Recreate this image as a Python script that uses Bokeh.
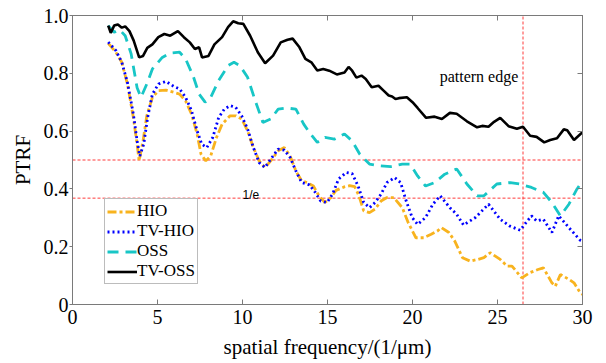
from bokeh.plotting import figure
from bokeh.models import Range1d, LinearAxis, FixedTicker, Legend, LegendItem, Label
from bokeh.embed import file_html
from bokeh.resources import INLINE

# ---------------- data ----------------
x_ticks = [0, 5, 10, 15, 20, 25, 30]
y_ticks = [0, 0.2, 0.4, 0.6, 0.8, 1.0]
y_tick_labels = {0: "0", 0.2: "0.2", 0.4: "0.4", 0.6: "0.6", 0.8: "0.8", 1.0: "1.0"}

hio_x = [2.1, 2.55, 2.9, 3.23, 3.58, 3.8, 3.92, 4.15, 4.37, 4.7, 5.06, 5.5, 5.97, 6.3, 6.65, 7.0, 7.33, 7.56, 7.84, 8.13,
         8.47, 8.8, 9.27, 9.6, 9.95, 10.3, 10.64, 10.98, 11.32, 11.66, 12.1, 12.46, 12.8, 13.14, 13.48, 13.8, 14.17, 14.5,
         14.85, 15.2, 15.5, 15.99, 16.3, 16.6, 16.85, 17.13, 17.47, 17.8, 18.15, 18.5, 18.9, 19.4, 19.75, 20.2, 20.66,
         21.1, 21.46, 21.7, 22.14, 22.48, 22.94, 23.4, 23.85, 24.2, 24.57, 25.16, 25.56, 25.85, 26.43, 26.9, 27.38, 27.7,
         28.2, 28.4, 28.7, 29.2, 29.5, 29.87, 30.0]
hio_y = [0.904, 0.873, 0.838, 0.763, 0.647, 0.555, 0.497, 0.566, 0.653, 0.717, 0.74, 0.742, 0.734, 0.728, 0.705, 0.659,
         0.59, 0.52, 0.497, 0.514, 0.578, 0.624, 0.653, 0.653, 0.642, 0.601, 0.543, 0.497, 0.474, 0.497, 0.532, 0.543,
         0.514, 0.462, 0.428, 0.422, 0.41, 0.376, 0.353, 0.37, 0.395, 0.407, 0.411, 0.408, 0.376, 0.324, 0.318, 0.33,
         0.358, 0.37, 0.37, 0.335, 0.283, 0.231, 0.231, 0.243, 0.254, 0.266, 0.249, 0.22, 0.162, 0.15, 0.156, 0.162,
         0.179, 0.156, 0.133, 0.133, 0.092, 0.11, 0.121, 0.127, 0.075, 0.063, 0.104, 0.087, 0.075, 0.04, 0.035]

tvhio_x = [2.1, 2.55, 2.9, 3.23, 3.58, 3.8, 3.96, 4.19, 4.42, 4.7, 5.06, 5.5, 5.97, 6.3, 6.65, 7.0, 7.33, 7.6, 7.9, 8.25,
           8.6, 8.93, 9.27, 9.6, 9.95, 10.3, 10.64, 10.98, 11.32, 11.66, 12.1, 12.46, 12.8, 13.14, 13.48, 13.94, 14.28,
           14.6, 14.97, 15.3, 15.65, 16.1, 16.45, 16.8, 17.13, 17.47, 17.8, 18.15, 18.5, 18.95, 19.3, 19.63, 19.98, 20.3,
           20.77, 21.2, 21.63, 22.2, 22.6, 23.0, 23.7, 24.47, 25.16, 25.7, 26.34, 26.7, 27.0, 27.3, 27.7, 28.2, 28.6,
           29.2, 29.87, 30.0]
tvhio_y = [0.908, 0.879, 0.838, 0.769, 0.659, 0.566, 0.514, 0.555, 0.647, 0.728, 0.763, 0.772, 0.754, 0.746, 0.717,
           0.671, 0.601, 0.555, 0.543, 0.578, 0.647, 0.676, 0.688, 0.682, 0.653, 0.607, 0.543, 0.491, 0.474, 0.503,
           0.538, 0.534, 0.509, 0.462, 0.422, 0.414, 0.388, 0.358, 0.353, 0.382, 0.434, 0.457, 0.453, 0.41, 0.353,
           0.335, 0.353, 0.382, 0.422, 0.439, 0.422, 0.358, 0.301, 0.277, 0.301, 0.347, 0.376, 0.335, 0.312, 0.275,
           0.301, 0.347, 0.295, 0.272, 0.257, 0.285, 0.307, 0.289, 0.295, 0.249, 0.307, 0.266, 0.222, 0.218]

oss_x = [2.1, 2.45, 2.78, 3.1, 3.45, 3.8, 4.03, 4.37, 4.7, 5.28, 5.74, 6.3, 6.65, 7.1, 7.45, 7.8, 8.13, 8.6, 9.16, 9.5,
         9.84, 10.3, 10.75, 11.2, 11.66, 12.1, 12.57, 13.14, 13.6, 13.94, 14.4, 14.85, 15.4, 16.0, 16.45, 16.9, 17.47,
         18.04, 18.72, 19.4, 19.86, 20.3, 20.77, 21.3, 21.9, 22.6, 23.2, 23.8, 24.2, 24.96, 25.75, 26.3, 27.0, 27.7,
         28.2, 28.7, 29.2, 29.67, 30.0]
oss_y = [0.965, 0.942, 0.95, 0.93, 0.867, 0.75, 0.717, 0.763, 0.815, 0.855, 0.87, 0.873, 0.85, 0.79, 0.728, 0.7, 0.717,
         0.775, 0.827, 0.838, 0.827, 0.786, 0.705, 0.63, 0.642, 0.676, 0.68, 0.676, 0.624, 0.595, 0.561, 0.578, 0.572,
         0.59, 0.566, 0.52, 0.486, 0.48, 0.477, 0.486, 0.486, 0.445, 0.41, 0.422, 0.451, 0.469, 0.417, 0.376, 0.376,
         0.417, 0.422, 0.417, 0.405, 0.388, 0.353, 0.307, 0.347, 0.399, 0.428]

tvoss_x = [2.1, 2.25, 2.45, 2.67, 2.9, 3.1, 3.35, 3.6, 3.92, 4.15, 4.4, 4.7, 5.05, 5.4, 5.75, 6.2, 6.55, 6.9, 7.2, 7.45,
           7.62, 8.0, 8.35, 8.8, 9.15, 9.45, 9.75, 10.05, 10.45, 10.9, 11.33, 11.8, 12.25, 12.65, 12.95, 13.35, 13.7,
           14.05, 14.4, 14.75, 15.1, 15.55, 16.0, 16.24, 16.45, 16.7, 17.0, 17.25, 17.6, 18.0, 18.3, 18.6, 18.8, 19.0,
           19.2, 19.67, 20.0, 20.3, 20.8, 21.3, 21.73, 22.2, 22.6, 23.2, 23.8, 24.1, 24.47, 24.8, 25.16, 25.65, 26.14,
           26.5, 26.92, 27.3, 27.75, 28.1, 28.5, 28.9, 29.1, 29.5, 30.0]
tvoss_y = [0.965, 0.94, 0.965, 0.969, 0.958, 0.962, 0.946, 0.913, 0.855, 0.86, 0.888, 0.9, 0.925, 0.936, 0.93, 0.946,
           0.925, 0.907, 0.884, 0.89, 0.855, 0.86, 0.9, 0.925, 0.96, 0.98, 0.973, 0.971, 0.93, 0.873, 0.835, 0.861,
           0.907, 0.916, 0.92, 0.89, 0.85, 0.838, 0.81, 0.815, 0.809, 0.796, 0.803, 0.822, 0.809, 0.785, 0.792, 0.78,
           0.752, 0.757, 0.74, 0.723, 0.72, 0.711, 0.714, 0.717, 0.7, 0.68, 0.646, 0.65, 0.642, 0.663, 0.66, 0.634,
           0.613, 0.618, 0.615, 0.632, 0.646, 0.617, 0.608, 0.615, 0.584, 0.58, 0.561, 0.569, 0.575, 0.606, 0.603,
           0.569, 0.596]

ref_levels = [0.5, 0.368]
edge_x = [26.5]
x_span = [0, 30]
y_span = [0, 1.0]

# ---------------- figure ----------------
SERIF = "serif"
SANS = "Arial"
GREY = "#7a7a7a"
RED = "#ff3b3b"

p = figure(width=606, height=363, output_backend="svg", toolbar_location=None,
           x_range=Range1d(0, 30), y_range=Range1d(0, 1.0),
           min_border_left=72, min_border_right=24, min_border_top=15, min_border_bottom=59)
p.background_fill_color = "white"
p.border_fill_color = "white"
p.outline_line_color = GREY
p.outline_line_width = 1
p.grid.visible = False

for ax in (p.xaxis[0], p.yaxis[0]):
    ax.axis_line_color = GREY
    ax.major_tick_line_color = GREY
    ax.minor_tick_line_color = None
    ax.major_label_text_font = SERIF
    ax.major_label_text_font_size = "20px"
    ax.major_label_text_color = "black"
    ax.axis_label_text_font = SERIF
    ax.axis_label_text_font_size = "21px"
    ax.axis_label_text_font_style = "normal"
    ax.axis_label_text_color = "black"

p.xaxis[0].major_tick_in = 5
p.xaxis[0].major_tick_out = 0
p.yaxis[0].major_tick_in = 0
p.yaxis[0].major_tick_out = 3
p.xaxis[0].ticker = FixedTicker(ticks=x_ticks)
p.yaxis[0].ticker = FixedTicker(ticks=y_ticks)
p.yaxis[0].major_label_overrides = y_tick_labels
p.xaxis[0].major_label_standoff = 5
p.yaxis[0].major_label_standoff = 1
p.xaxis[0].axis_label = "spatial frequency/(1/\u03bcm)"
p.yaxis[0].axis_label = "PTRF"
p.xaxis[0].axis_label_standoff = 8
p.yaxis[0].axis_label_standoff = 6

top = LinearAxis(ticker=FixedTicker(ticks=x_ticks), major_label_text_font_size="0px",
                 axis_line_color=GREY, major_tick_line_color=GREY, major_tick_in=5, major_tick_out=0,
                 minor_tick_line_color=None, major_label_standoff=0)
right = LinearAxis(ticker=FixedTicker(ticks=y_ticks), major_label_text_font_size="0px",
                   axis_line_color=GREY, major_tick_line_color=GREY, major_tick_in=5, major_tick_out=0,
                   minor_tick_line_color=None, major_label_standoff=0)
p.add_layout(top, "above")
p.add_layout(right, "right")

# reference lines (drawn as data segments)
p.segment(x0=[x_span[0]] * len(ref_levels), x1=[x_span[1]] * len(ref_levels), y0=ref_levels, y1=ref_levels,
          line_color=RED, line_dash="3 2", line_width=1)
p.segment(x0=edge_x, x1=edge_x, y0=[y_span[0]], y1=[y_span[1]],
          line_color=RED, line_dash="3 2", line_width=1)

# curves
r_hio = p.line(hio_x, hio_y, line_color="#F8B31E", line_width=2.8, line_dash="9 3 3 3")
r_tvhio = p.line(tvhio_x, tvhio_y, line_color="#0000FF", line_width=2.8, line_dash="2 3")
r_oss = p.line(oss_x, oss_y, line_color="#18C6C6", line_width=2.8, line_dash="11 7")
r_tvoss = p.line(tvoss_x, tvoss_y, line_color="black", line_width=2.6)

# annotations
p.add_layout(Label(x=21.6, y=0.789, text="pattern edge", text_font=SERIF, text_font_size="16px",
                   text_baseline="alphabetic", text_color="black"))
p.add_layout(Label(x=10.0, y=0.378, text="1/e", text_font=SANS, text_font_size="12px",
                   text_baseline="alphabetic", text_color="black"))

legend = Legend(items=[LegendItem(label="HIO", renderers=[r_hio]),
                       LegendItem(label="TV-HIO", renderers=[r_tvhio]),
                       LegendItem(label="OSS", renderers=[r_oss]),
                       LegendItem(label="TV-OSS", renderers=[r_tvoss])],
                location=(32, 20))
legend.label_text_font = SERIF
legend.label_text_font_size = "17px"
legend.label_text_color = "black"
legend.glyph_width = 30
legend.glyph_height = 15
legend.label_height = 15
legend.label_standoff = 0
legend.spacing = 0
legend.padding = 2
legend.margin = 0
legend.border_line_color = GREY
legend.border_line_width = 1
legend.background_fill_color = "white"
legend.background_fill_alpha = 1
p.add_layout(legend)

open("out.html", "w").write(file_html(p, INLINE))
